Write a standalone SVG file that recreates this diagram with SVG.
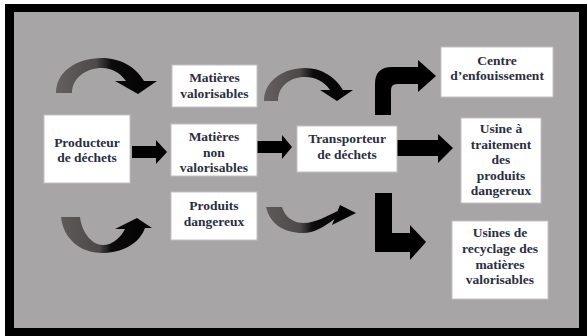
<svg xmlns="http://www.w3.org/2000/svg" width="587" height="336" viewBox="0 0 587 336">
<defs>
<style>
.box{fill:#ffffff;stroke:#c4c2c3;stroke-width:1}
.t{font-family:"Liberation Serif","Times New Roman",serif;font-weight:bold;font-size:13.5px;fill:#2b2e3e;text-anchor:middle}
.ar{fill:#000000}
</style>
<linearGradient id="gA" gradientUnits="userSpaceOnUse" x1="56" y1="0" x2="157" y2="0">
<stop offset="0" stop-color="#655f5f"/><stop offset="0.4" stop-color="#4e4949"/><stop offset="0.55" stop-color="#0c0c0c"/><stop offset="1" stop-color="#000"/>
</linearGradient>
<linearGradient id="gB" gradientUnits="userSpaceOnUse" x1="264" y1="0" x2="353" y2="0">
<stop offset="0" stop-color="#655f5f"/><stop offset="0.4" stop-color="#4e4949"/><stop offset="0.55" stop-color="#0c0c0c"/><stop offset="1" stop-color="#000"/>
</linearGradient>
<linearGradient id="gC" gradientUnits="userSpaceOnUse" x1="61" y1="0" x2="152" y2="0">
<stop offset="0" stop-color="#5f5a5a"/><stop offset="0.42" stop-color="#4e4949"/><stop offset="0.55" stop-color="#0c0c0c"/><stop offset="1" stop-color="#000"/>
</linearGradient>
<linearGradient id="gD" gradientUnits="userSpaceOnUse" x1="266" y1="0" x2="356" y2="0">
<stop offset="0" stop-color="#5f5a5a"/><stop offset="0.38" stop-color="#4e4949"/><stop offset="0.52" stop-color="#0c0c0c"/><stop offset="1" stop-color="#000"/>
</linearGradient>
</defs>
<rect x="0" y="0" width="587" height="336" fill="#ffffff"/>
<rect x="5" y="4" width="582" height="332" fill="#000000"/>
<rect x="14" y="12" width="565" height="316" fill="#a8a5a6"/>

<g id="connectors">
<path class="ar" d="M132,146 L156,146 L156,140 L167,152 L156,164 L156,158 L132,158 Z"/>
<path class="ar" d="M257,141 L282,141 L282,135 L292,147 L282,159 L282,153 L257,153 Z"/>
<path class="ar" d="M397,140 L438,140 L438,134 L453,148 L438,163 L438,156 L397,156 Z"/>
<path class="ar" d="M375,115 L375,84 Q375,67 392,67 L418,67 L418,60 L436,76 L418,92 L418,84 L397,84 Q391,84 391,90 L391,115 Z"/>
<path class="ar" d="M375,193 L392,193 L392,233 L410,233 L410,225 L426,242 L410,260 L410,252 L375,252 Z"/>
<path fill="url(#gA)" d="M56,93 C56,72 76,58 102,58 C120,58 136,67 144,81 L157,81 L138,94 L115,81 L126,81 C120,73 112,68 102,68 C86,68 72,78 72,93 Z"/>
<path fill="url(#gB)" d="M264,101 C264,82 282,68 305,68 C322,68 335,77 343,90 L353,90 L337,101 L320,90 L330,90 C324,81 315,77 305,77 C289,77 278,87 278,101 Z"/>
<path fill="url(#gC)" d="M61,217 L80,217 C82,233 92,245 103,245 C113,245 121,237 125,229 L115,229 L137,218 L152,228 L145,228 C139,244 122,253 102,253 C80,253 63,238 61,217 Z"/>
<path fill="url(#gD)" d="M266,207 L282,207 C285,217 293,223 304,223 C315,223 327,216 337.6,211 L340,205 L356,213 L332,225 L334.4,219 C324,227 314,233 303,233 C284,233 270,224 266,207 Z"/>
</g>

<g id="producteur">
<rect class="box" x="44" y="115" width="86" height="68"/>
<text class="t" x="87" y="147">Producteur</text>
<text class="t" x="87" y="162">de déchets</text>
</g>
<g id="matieres-valorisables">
<rect class="box" x="172" y="65" width="85" height="42"/>
<text class="t" x="214.5" y="82">Matières</text>
<text class="t" x="214.5" y="98">valorisables</text>
</g>
<g id="matieres-non-valorisables">
<rect class="box" x="171" y="124" width="86" height="52"/>
<text class="t" x="214" y="141">Matières</text>
<text class="t" x="214" y="157">non</text>
<text class="t" x="214" y="172">valorisables</text>
</g>
<g id="produits-dangereux">
<rect class="box" x="171" y="192" width="86" height="48"/>
<text class="t" x="214" y="209.5">Produits</text>
<text class="t" x="214" y="226">dangereux</text>
</g>
<g id="transporteur">
<rect class="box" x="297" y="126" width="100" height="46"/>
<text class="t" x="347" y="143">Transporteur</text>
<text class="t" x="347" y="159">de déchets</text>
</g>
<g id="centre-enfouissement">
<rect class="box" x="441" y="47" width="112" height="50"/>
<text class="t" x="497" y="64.5">Centre</text>
<text class="t" x="497" y="79.5">d’enfouissement</text>
</g>
<g id="usine-traitement">
<rect class="box" x="461" y="118" width="80" height="85"/>
<text class="t" x="501" y="133">Usine à</text>
<text class="t" x="501" y="148.5">traitement</text>
<text class="t" x="501" y="164">des</text>
<text class="t" x="501" y="179.5">produits</text>
<text class="t" x="501" y="195">dangereux</text>
</g>
<g id="usines-recyclage">
<rect class="box" x="452" y="221" width="96" height="78"/>
<text class="t" x="500" y="237">Usines de</text>
<text class="t" x="500" y="253">recyclage des</text>
<text class="t" x="500" y="268.5">matières</text>
<text class="t" x="500" y="284">valorisables</text>
</g>
</svg>
